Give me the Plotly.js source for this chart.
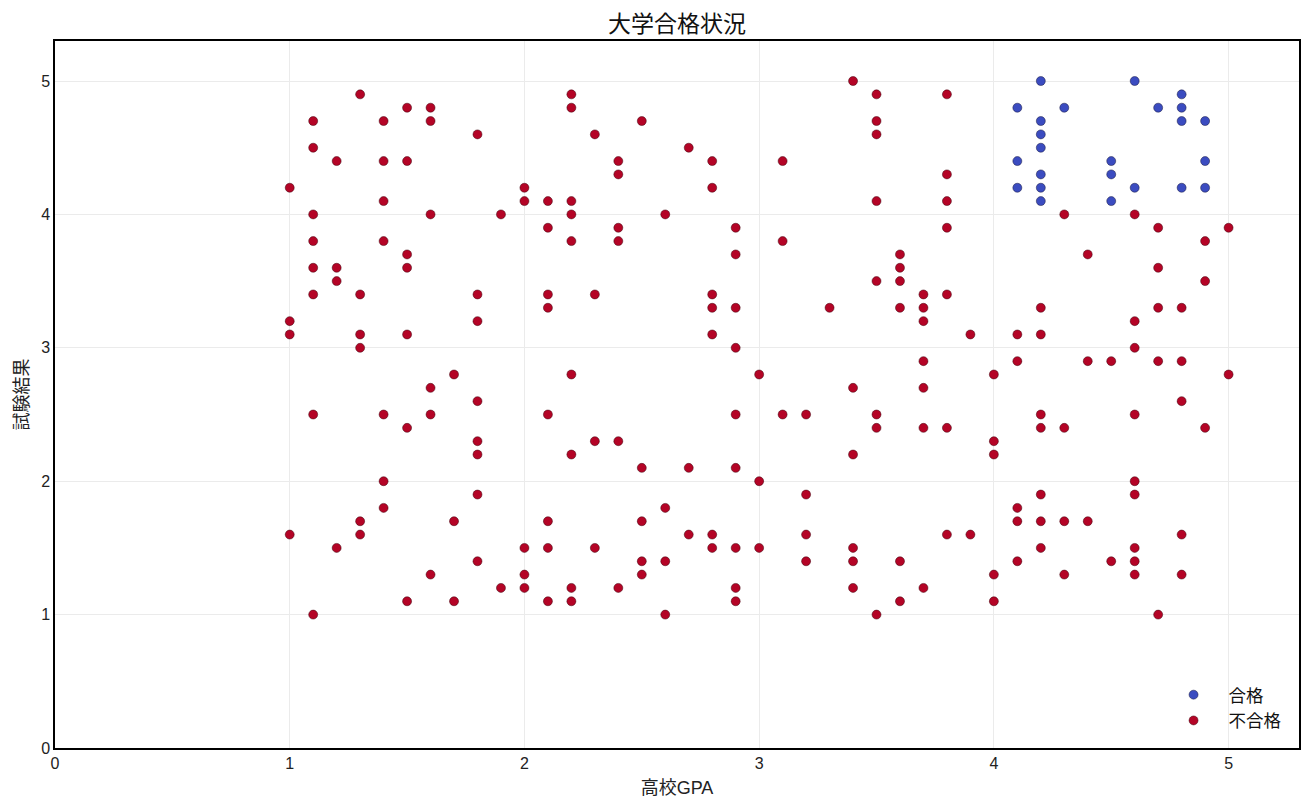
<!DOCTYPE html>
<html>
<head>
<meta charset="utf-8">
<script src="https://cdn.plot.ly/plotly-3.0.1.min.js"></script>
<style>html,body{margin:0;padding:0;background:#fff;}#chart{width:1312px;height:810px;}</style>
</head>
<body>
<div id="chart"></div>
<script>
// 合格 (pass)
const passGPA   = [4.1,4.1,4.1, 4.2,4.2,4.2,4.2,4.2,4.2,4.2, 4.3, 4.5,4.5,4.5, 4.6,4.6, 4.7, 4.8,4.8,4.8,4.8, 4.9,4.9,4.9];
const passScore = [4.8,4.4,4.2, 5.0,4.7,4.6,4.5,4.3,4.2,4.1, 4.8, 4.4,4.3,4.1, 5.0,4.2, 4.8, 4.9,4.8,4.7,4.2, 4.7,4.4,4.2];

// 不合格 (fail)
const failGPA = [
  1.0,1.0,1.0,1.0,
  1.1,1.1,1.1,1.1,1.1,1.1,1.1,1.1,
  1.2,1.2,1.2,1.2,
  1.3,1.3,1.3,1.3,1.3,1.3,
  1.4,1.4,1.4,1.4,1.4,1.4,1.4,
  1.5,1.5,1.5,1.5,1.5,1.5,1.5,
  1.6,1.6,1.6,1.6,1.6,1.6,
  1.7,1.7,1.7,
  1.8,1.8,1.8,1.8,1.8,1.8,1.8,1.8,
  1.9,1.9,
  2.0,2.0,2.0,2.0,2.0,
  2.1,2.1,2.1,2.1,2.1,2.1,2.1,2.1,
  2.2,2.2,2.2,2.2,2.2,2.2,2.2,2.2,2.2,
  2.3,2.3,2.3,2.3,
  2.4,2.4,2.4,2.4,2.4,2.4,
  2.5,2.5,2.5,2.5,2.5,
  2.6,2.6,2.6,2.6,
  2.7,2.7,2.7,
  2.8,2.8,2.8,2.8,2.8,2.8,2.8,
  2.9,2.9,2.9,2.9,2.9,2.9,2.9,2.9,2.9,
  3.0,3.0,3.0,
  3.1,3.1,3.1,
  3.2,3.2,3.2,3.2,
  3.3,
  3.4,3.4,3.4,3.4,3.4,3.4,
  3.5,3.5,3.5,3.5,3.5,3.5,3.5,3.5,
  3.6,3.6,3.6,3.6,3.6,3.6,
  3.7,3.7,3.7,3.7,3.7,3.7,3.7,
  3.8,3.8,3.8,3.8,3.8,3.8,3.8,
  3.9,3.9,
  4.0,4.0,4.0,4.0,4.0,
  4.1,4.1,4.1,4.1,4.1,
  4.2,4.2,4.2,4.2,4.2,4.2,4.2,
  4.3,4.3,4.3,4.3,
  4.4,4.4,4.4,
  4.5,4.5,
  4.6,4.6,4.6,4.6,4.6,4.6,4.6,4.6,4.6,
  4.7,4.7,4.7,4.7,4.7,
  4.8,4.8,4.8,4.8,4.8,
  4.9,4.9,4.9,
  5.0,5.0
];
const failScore = [
  4.2,3.2,3.1,1.6,
  4.7,4.5,4.0,3.8,3.6,3.4,2.5,1.0,
  4.4,3.6,3.5,1.5,
  4.9,3.4,3.1,3.0,1.7,1.6,
  4.7,4.4,4.1,3.8,2.5,2.0,1.8,
  4.8,4.4,3.7,3.6,3.1,2.4,1.1,
  4.8,4.7,4.0,2.7,2.5,1.3,
  2.8,1.7,1.1,
  4.6,3.4,3.2,2.6,2.3,2.2,1.9,1.4,
  4.0,1.2,
  4.2,4.1,1.5,1.3,1.2,
  4.1,3.9,3.4,3.3,2.5,1.7,1.5,1.1,
  4.9,4.8,4.1,4.0,3.8,2.8,2.2,1.2,1.1,
  4.6,3.4,2.3,1.5,
  4.4,4.3,3.9,3.8,2.3,1.2,
  4.7,2.1,1.7,1.4,1.3,
  4.0,1.8,1.4,1.0,
  4.5,2.1,1.6,
  4.4,4.2,3.4,3.3,3.1,1.6,1.5,
  3.9,3.7,3.3,3.0,2.5,2.1,1.5,1.2,1.1,
  2.8,2.0,1.5,
  4.4,3.8,2.5,
  2.5,1.9,1.6,1.4,
  3.3,
  5.0,2.7,2.2,1.5,1.4,1.2,
  4.9,4.7,4.6,4.1,3.5,2.5,2.4,1.0,
  3.7,3.6,3.5,3.3,1.4,1.1,
  3.4,3.3,3.2,2.9,2.7,2.4,1.2,
  4.9,4.3,4.1,3.9,3.4,2.4,1.6,
  3.1,1.6,
  2.8,2.3,2.2,1.3,1.1,
  3.1,2.9,1.8,1.7,1.4,
  3.3,3.1,2.5,2.4,1.9,1.7,1.5,
  4.0,2.4,1.7,1.3,
  3.7,2.9,1.7,
  2.9,1.4,
  4.0,3.2,3.0,2.5,2.0,1.9,1.5,1.4,1.3,
  3.9,3.6,3.3,2.9,1.0,
  3.3,2.9,2.6,1.6,1.3,
  3.8,3.5,2.4,
  3.9,2.8
];

const tickVals = [0,1,2,3,4,5];
const tickText = ['0','1','2','3','4','5'];

const FONT = '"Liberation Sans", "Noto Sans CJK JP", sans-serif';

const traces = [
  {
    type: 'scatter', mode: 'markers', name: '合格',
    x: passGPA, y: passScore,
    marker: {size: 9, color: '#3b4cc0', line: {color: 'rgba(20,20,60,0.7)', width: 0.7}}
  },
  {
    type: 'scatter', mode: 'markers', name: '不合格',
    x: failGPA, y: failScore,
    marker: {size: 9, color: '#b40426', line: {color: 'rgba(60,0,10,0.7)', width: 0.7}}
  }
];

const axisCommon = {
  range: [0, 5.3],
  tickvals: tickVals,
  ticktext: tickText,
  showgrid: true,
  gridcolor: '#ebebeb',
  gridwidth: 1,
  zeroline: false,
  showline: true,
  linecolor: '#000',
  linewidth: 1.6,
  mirror: true,
  ticks: '',
  tickfont: {family: FONT, size: 16, color: '#222'}
};

const layout = {
  width: 1312, height: 810,
  margin: {l: 55, r: 13, t: 41, b: 62},
  paper_bgcolor: '#fff', plot_bgcolor: '#fff',
  font: {family: FONT, color: '#222'},
  title: {
    text: '大学合格状況',
    font: {family: FONT, size: 23, color: '#111'},
    x: 0.5, xref: 'paper', y: 1 - 24/810, yref: 'container', yanchor: 'middle'
  },
  xaxis: Object.assign({}, axisCommon, {
    title: {text: '高校GPA', font: {family: FONT, size: 18, color: '#222'}, standoff: 10}
  }),
  yaxis: Object.assign({}, axisCommon, {
    title: {text: '試験結果', font: {family: FONT, size: 18, color: '#222'}, standoff: 8}
  }),
  showlegend: true,
  legend: {
    x: 0.99, y: 0.013, xanchor: 'right', yanchor: 'bottom',
    bgcolor: 'rgba(255,255,255,0)', borderwidth: 0,
    font: {family: FONT, size: 17.5, color: '#111'},
    itemwidth: 60,
    tracegroupgap: 0
  }
};

Plotly.newPlot('chart', traces, layout, {displayModeBar: false, staticPlot: true});
</script>
</body>
</html>
